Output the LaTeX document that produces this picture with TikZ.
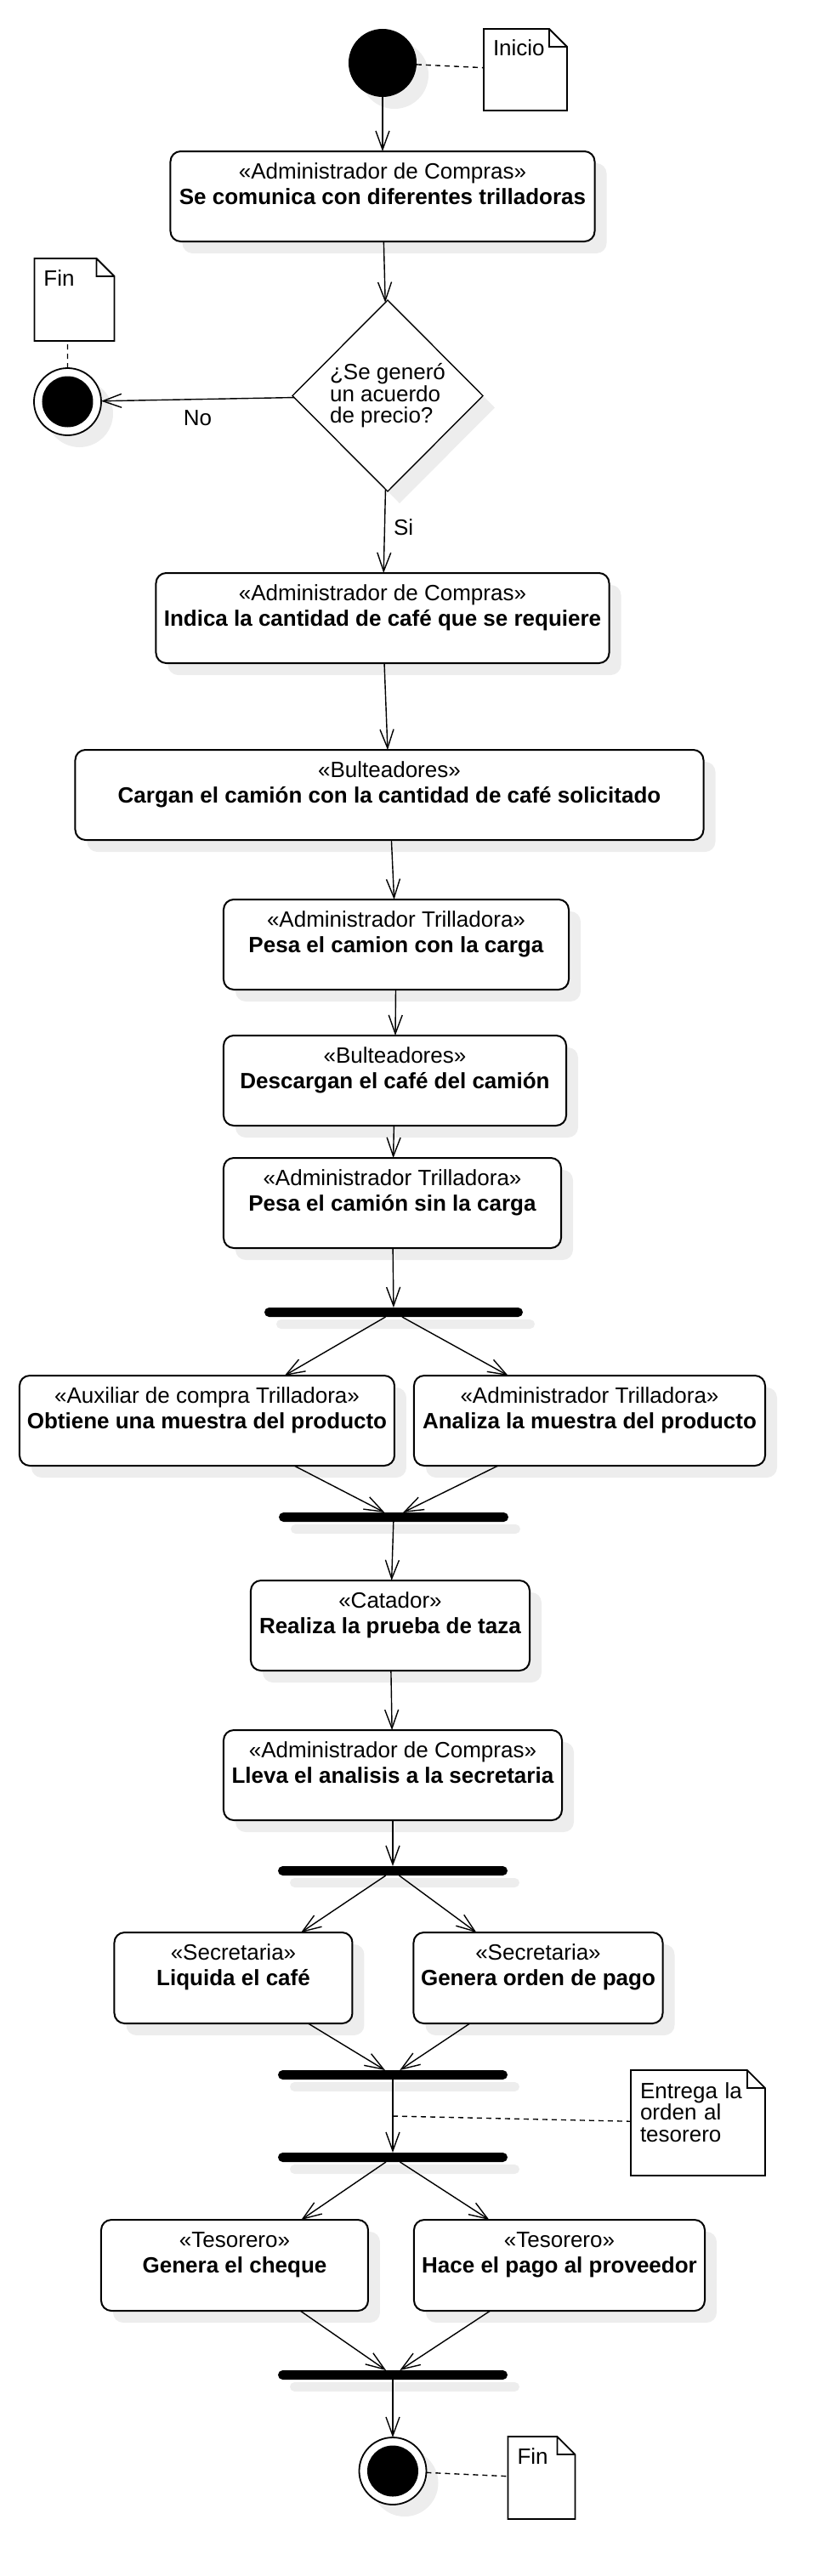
\documentclass[tikz,border=0pt]{standalone}
\usepackage{fontspec}
\setmainfont{Liberation Sans}
\usetikzlibrary{positioning,shapes,calc,shadows,arrows.meta}

\begin{document}
\begin{tikzpicture}[font=\fontsize{13}{15}\selectfont, every node/.append style={outer sep=0pt},
    sombra/.style={drop shadow={shadow xshift=7pt, shadow yshift=-7pt, fill=black!7, opacity=1}},
    act/.style={draw, line width=1pt, rounded corners=6pt, fill=white, sombra, align=center, minimum height=53pt, inner sep=2pt},
    bar/.style={fill=black, rounded corners=2.75pt, minimum height=5.5pt, inner sep=0pt, sombra},
    ini/.style={circle, fill=black, minimum size=40pt, inner sep=0pt, sombra},
    fin/.style={circle, draw, line width=0.9pt, fill=white, minimum size=39.5pt, inner sep=0pt, sombra,
        path picture={\fill[black] (path picture bounding box.center) circle (15pt);}},
    note/.style={align=left, inner xsep=5.5pt, inner ysep=0pt, font=\fontsize{13}{12.75}\selectfont},
    flow/.style={-{Straight Barb[length=11pt, width=8pt]}, line width=0.7pt},
    nota/.style={dash pattern=on 3pt off 2.5pt, line width=0.7pt}]
    \useasboundingbox (-225pt,37pt) rectangle (265pt,-1478pt);
    \node[ini] (s) at (0,0) {};
    \node[note, text width=38pt, minimum height=48pt] (n1) [right=39.5pt of s, yshift=-4pt] {Inicio\\ \mbox{}\\ \mbox{}};
    \node[act, minimum width=249.5pt] (a1) [below=32pt of s] {«Administrador de Compras»\\ \textbf{Se comunica con diferentes trilladoras}\\ \mbox{}};
    \node[draw, shape=diamond, line width=0.7pt, fill=white, sombra, inner sep=0pt, style={minimum width=112pt, minimum height=112.5pt}, align=left, font=\fontsize{13}{12.75}\selectfont] (d) [below=34.5pt of a1, xshift=3pt] {¿Se generó\\un acuerdo\\de precio?};
    \node[fin] (f1) [left=112.5pt of d, yshift=-3.5pt] {};
    \node[note, text width=36pt, minimum height=48.5pt] (nf1) [above=16pt of f1, xshift=4pt] {Fin\\ \mbox{}\\ \mbox{}};
    \node[act, minimum width=266.5pt] (a2) [below=48pt of d, xshift=-3pt] {«Administrador de Compras»\\ \textbf{Indica la cantidad de café que se requiere}\\ \mbox{}};
    \node[act, minimum width=369.5pt] (a3) [below=51pt of a2, xshift=4pt] {«Bulteadores»\\ \textbf{Cargan el camión con la cantidad de café solicitado}\\ \mbox{}};
    \node[act, minimum width=203pt] (a4) [below=35pt of a3, xshift=4pt] {«Administrador Trilladora»\\ \textbf{Pesa el camion con la carga}\\ \mbox{}};
    \node[act, minimum width=201.5pt] (a5) [below=27pt of a4, xshift=-0.75pt] {«Bulteadores»\\ \textbf{Descargan el café del camión}\\ \mbox{}};
    \node[act, minimum width=198.5pt] (a6) [below=19pt of a5, xshift=-1.5pt] {«Administrador Trilladora»\\ \textbf{Pesa el camión sin la carga}\\ \mbox{}};
    \node[bar, minimum width=152pt] (b1) [below=35pt of a6, xshift=0.75pt] {};
    \node[act, minimum width=220.5pt] (a7) [below=34.5pt of b1, xshift=-109.75pt] {«Auxiliar de compra Trilladora»\\ \textbf{Obtiene una muestra del producto}\\ \mbox{}};
    \node[act, minimum width=206.5pt] (a8) [right=11.5pt of a7] {«Administrador Trilladora»\\ \textbf{Analiza la muestra del producto}\\ \mbox{}};
    \node[bar, minimum width=135pt] (b2) [below=115pt of b1] {};
    \node[act, minimum width=164pt] (a9) [below=34.5pt of b2, xshift=-2pt] {«Catador»\\ \textbf{Realiza la prueba de taza}\\ \mbox{}};
    \node[act, minimum width=199pt] (a10) [below=35pt of a9, xshift=1.5pt] {«Administrador de Compras»\\ \textbf{Lleva el analisis a la secretaria}\\ \mbox{}};
    \node[bar, minimum width=135pt] (b3) [below=27pt of a10] {};
    \node[act, minimum width=140pt, minimum height=53.5pt] (a11) [below=33.5pt of b3, xshift=-93.75pt] {«Secretaria»\\ \textbf{Liquida el café}\\ \mbox{}};
    \node[act, minimum width=146.5pt, minimum height=53.5pt] (a12) [right=36pt of a11] {«Secretaria»\\ \textbf{Genera orden de pago}\\ \mbox{}};
    \node[bar, minimum width=135pt] (b4) [below=114.5pt of b3] {};
    \node[bar, minimum width=135pt] (b5) [below=43pt of b4] {};
    \coordinate (m) at ($(b4)!0.5!(b5)$);
    \node[note, text width=68pt, minimum height=62pt] (n4) [right=140pt of m, yshift=-4pt] {Entrega la\\orden al\\tesorero\\ \mbox{}};
    \node[act, minimum width=157pt, minimum height=53.5pt] (a13) [below=34pt of b5, xshift=-93pt] {«Tesorero»\\ \textbf{Genera el cheque}\\ \mbox{}};
    \node[act, minimum width=171pt, minimum height=53.5pt] (a14) [right=27pt of a13] {«Tesorero»\\ \textbf{Hace el pago al proveedor}\\ \mbox{}};
    \node[bar, minimum width=135pt] (b6) [below=122.5pt of b5] {};
    \node[fin] (f2) [below=34pt of b6] {};
    \node[note, text width=28.5pt, minimum height=48.5pt] (nf2) [right=48pt of f2, yshift=-4pt] {Fin\\ \mbox{}\\ \mbox{}};
    \foreach \n in {n1, nf1, n4, nf2}
        \draw[line width=0.9pt] (\n.north west) -- ([xshift=-10.5pt]\n.north east) -- ([yshift=-10.5pt]\n.north east) -- (\n.south east) -- (\n.south west) -- cycle
            ([xshift=-10.5pt]\n.north east) |- ([yshift=-10.5pt]\n.north east);
    \draw[nota] (s) -- (n1) (f1.north) -- (f1.north |- nf1.south) (m) -- (n4) (f2) -- (nf2);
    \draw (s) edge[flow] (a1) (a1) edge[flow] (d)
        (d) edge[flow] node[below=3pt] {No} (f1) (d) edge[flow] node[right=2pt, pos=0.45] {Si} (a2);
    \draw (a2) edge[flow] (a3) (a3) edge[flow] (a4) (a4) edge[flow] (a5) (a5) edge[flow] (a6) (a6) edge[flow] (b1);
    \draw (b1) edge[flow] (a7) (b1) edge[flow] (a8) (a7) edge[flow] (b2) (a8) edge[flow] (b2);
    \draw (b2) edge[flow] (a9) (a9) edge[flow] (a10) (a10) edge[flow] (b3);
    \draw (b3) edge[flow] (a11) (b3) edge[flow] (a12) (a11) edge[flow] (b4) (a12) edge[flow] (b4) (b4) edge[flow] (b5);
    \draw (b5) edge[flow] (a13) (b5) edge[flow] (a14) (a13) edge[flow] (b6) (a14) edge[flow] (b6) (b6) edge[flow] (f2);
\end{tikzpicture}
\end{document}
